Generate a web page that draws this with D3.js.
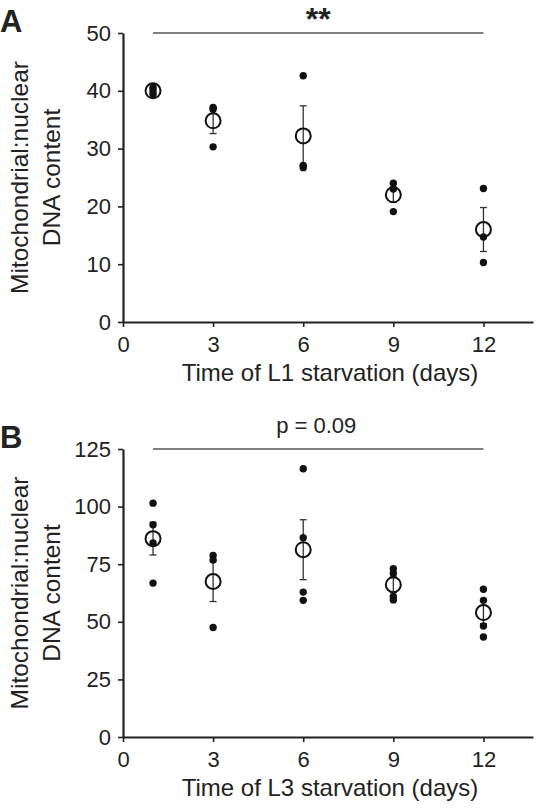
<!DOCTYPE html>
<html>
<head>
<meta charset="utf-8">
<script src="https://cdn.jsdelivr.net/npm/d3@7"></script>
<style>
  html, body { margin: 0; padding: 0; background: #fff; }
  svg text { font-family: "Liberation Sans", Arial, sans-serif; fill: #222; }
</style>
</head>
<body>
<div id="chart"></div>
<script>
// ---- data ----
const days = [1, 3, 6, 9, 12];
const xTicks = [0, 3, 6, 9, 12];

const aTicks = [0, 10, 20, 30, 40, 50];
const aMeans = [40.0, 34.8, 32.2, 22.0, 16.0];
const aSem = [0.4, 2.2, 5.2, 1.3, 3.8];
const aPoints = [
  [40.6, 39.4, 40.0],
  [37.1, 36.8, 30.3],
  [42.6, 27.1, 26.7],
  [24.0, 23.0, 19.1],
  [23.1, 14.7, 10.3]
];

const bTicks = [0, 25, 50, 75, 100, 125];
const bMeans = [86.1, 67.5, 81.3, 66.1, 54.0];
const bSem = [7.1, 8.7, 13.0, 3.4, 4.8];
const bPoints = [
  [101.5, 92.1, 84.2, 66.8],
  [78.8, 76.8, 47.5],
  [116.4, 86.5, 62.9, 59.3],
  [73.0, 71.0, 61.0, 59.5],
  [64.1, 59.3, 48.2, 43.4]
];

const panels = [
  { label: "A", ticks: aTicks, yMax: 50, means: aMeans, sem: aSem, points: aPoints,
    xTitle: "Time of L1 starvation (days)", sig: "**", top: 33, bottom: 322 },
  { label: "B", ticks: bTicks, yMax: 125, means: bMeans, sem: bSem, points: bPoints,
    xTitle: "Time of L3 starvation (days)", sig: "p = 0.09", top: 449, bottom: 737 }
];

const W = 536, H = 808;
const svg = d3.select("#chart").append("svg").attr("width", W).attr("height", H);

const x = d3.scaleLinear().domain([0, 13.65]).range([123, 533]);

panels.forEach(p => {
  const g = svg.append("g");
  const y = d3.scaleLinear().domain([0, p.yMax]).range([p.bottom, p.top]);

  // axes
  const xAxis = d3.axisBottom(x).tickValues(xTicks).tickSize(5).tickPadding(9).tickSizeOuter(0);
  const gx = g.append("g").attr("transform", `translate(0,${p.bottom})`).call(xAxis);
  const yAxis = d3.axisLeft(y).tickValues(p.ticks).tickSize(5).tickPadding(7).tickSizeOuter(0);
  const gy = g.append("g").attr("transform", `translate(${x(0)},0)`).call(yAxis);
  [gx, gy].forEach(a => {
    a.selectAll("path.domain").attr("stroke", "#222").attr("stroke-width", 2.2);
    a.selectAll(".tick line").attr("stroke", "#222").attr("stroke-width", 1.6);
    a.selectAll(".tick text").attr("font-size", 22).attr("fill", "#222")
      .attr("font-family", "Liberation Sans, Arial, sans-serif");
  });

  // axis titles
  g.append("text").attr("x", (x.range()[0] + x.range()[1]) / 2 + 2).attr("y", p.bottom + 59)
    .attr("text-anchor", "middle").attr("font-size", 24).text(p.xTitle);
  const cy = (p.top + p.bottom) / 2;
  const yt = g.append("text").attr("transform", `translate(28,${cy}) rotate(-90)`)
    .attr("text-anchor", "middle").attr("font-size", 24.5);
  yt.append("tspan").attr("x", 0).attr("y", 0).text("Mitochondrial:nuclear");
  yt.append("tspan").attr("x", 0).attr("y", 32).text("DNA content");

  // panel label
  g.append("text").attr("x", 0).attr("y", p.top - 1).attr("font-size", 31)
    .attr("font-weight", "bold").attr("fill", "#111").text(p.label);

  // significance line
  g.append("line").attr("x1", x(days[0])).attr("x2", x(days[days.length - 1]))
    .attr("y1", y(p.yMax)).attr("y2", y(p.yMax))
    .attr("stroke", "#555").attr("stroke-width", 1.5);
  const midX = (x(days[0]) + x(days[days.length - 1])) / 2;
  if (p.sig === "**") {
    g.append("text").attr("x", midX).attr("y", p.top - 3).attr("text-anchor", "middle")
      .attr("font-size", 32).attr("font-weight", "bold").text(p.sig);
  } else {
    g.append("text").attr("x", midX - 2).attr("y", p.top - 16).attr("text-anchor", "middle")
      .attr("font-size", 22).text(p.sig);
  }

  // error bars
  days.forEach((d, i) => {
    const cx = x(d);
    const hi = y(p.means[i] + p.sem[i]), lo = y(p.means[i] - p.sem[i]);
    g.append("line").attr("x1", cx).attr("x2", cx).attr("y1", hi).attr("y2", lo)
      .attr("stroke", "#333").attr("stroke-width", 1.3);
    [hi, lo].forEach(v => g.append("line").attr("x1", cx - 3.5).attr("x2", cx + 3.5)
      .attr("y1", v).attr("y2", v).attr("stroke", "#333").attr("stroke-width", 1.3));
  });

  // individual points
  days.forEach((d, i) => {
    p.points[i].forEach(v => {
      g.append("circle").attr("cx", x(d)).attr("cy", y(v)).attr("r", 3.7).attr("fill", "#111");
    });
  });

  // means
  days.forEach((d, i) => {
    g.append("circle").attr("cx", x(d)).attr("cy", y(p.means[i])).attr("r", 7.5)
      .attr("fill", "none").attr("stroke", "#111").attr("stroke-width", 2);
  });
});
</script>
</body>
</html>
